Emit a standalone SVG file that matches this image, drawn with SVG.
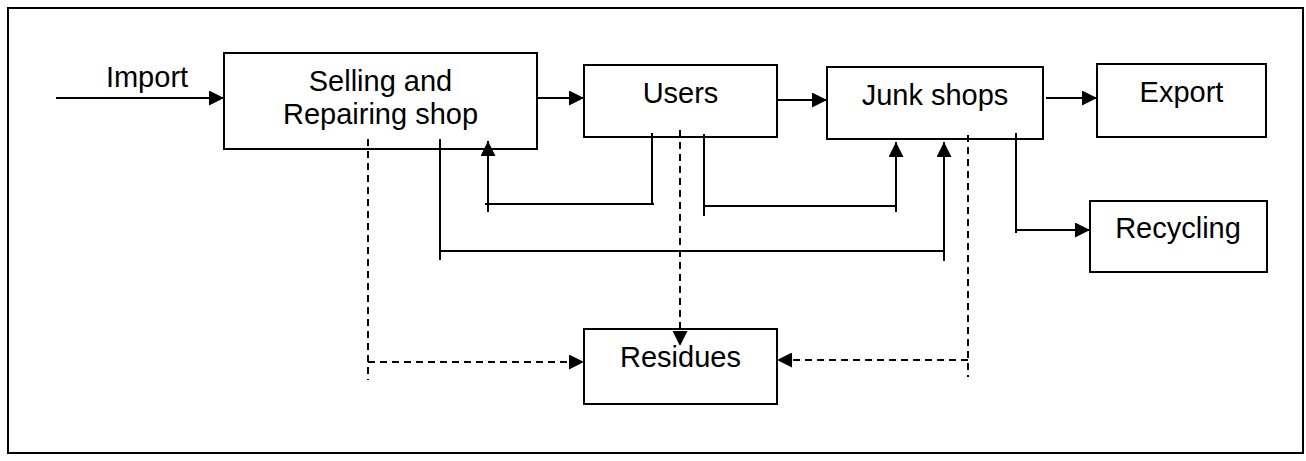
<svg xmlns="http://www.w3.org/2000/svg" width="1306" height="461" viewBox="0 0 1306 461">
  <style>
    .frame { fill: none; stroke: #000; stroke-width: 2; }
    .box { fill: #fff; stroke: #000; stroke-width: 2; }
    .label { font-family: "Liberation Sans", Arial, sans-serif; font-size: 29px; fill: #000; text-anchor: middle; }
    .flow { fill: none; stroke: #000; stroke-width: 2; }
    .waste { fill: none; stroke: #000; stroke-width: 2; stroke-dasharray: 7 5; }
  </style>
  <defs>
    <marker id="arrow" viewBox="0 0 15 15" refX="15" refY="7.5" markerWidth="15" markerHeight="15" markerUnits="userSpaceOnUse" orient="auto">
      <path d="M0,0 L15,7.5 L0,15 z" fill="#000" stroke="none"/>
    </marker>
  </defs>

  <!-- outer frame -->
  <rect class="frame" x="8" y="8" width="1295" height="445"/>

  <!-- nodes -->
  <g id="selling-repairing-shop">
    <rect class="box" x="224" y="53" width="313" height="96"/>
    <text class="label" x="380.5" y="90.5">Selling and</text>
    <text class="label" x="380.5" y="124">Repairing shop</text>
  </g>
  <g id="users">
    <rect class="box" x="584" y="65" width="193" height="72"/>
    <text class="label" x="680.5" y="103">Users</text>
  </g>
  <g id="junk-shops">
    <rect class="box" x="827" y="67" width="216" height="72"/>
    <text class="label" x="935" y="105">Junk shops</text>
  </g>
  <g id="export">
    <rect class="box" x="1097" y="64" width="169" height="73"/>
    <text class="label" x="1181.5" y="102">Export</text>
  </g>
  <g id="recycling">
    <rect class="box" x="1090" y="201" width="177" height="71"/>
    <text class="label" x="1178" y="237.5">Recycling</text>
  </g>
  <g id="residues">
    <rect class="box" x="584" y="329" width="193" height="75"/>
    <text class="label" x="680.5" y="366.5">Residues</text>
  </g>

  <!-- connectors -->
  <g id="connectors">
    <!-- import into the shop -->
    <path class="flow" d="M56,98 H224" marker-end="url(#arrow)"/>
    <text class="label" x="147" y="87">Import</text>

    <!-- main chain -->
    <path class="flow" d="M537,98 H584" marker-end="url(#arrow)"/>
    <path class="flow" d="M777,100 H827" marker-end="url(#arrow)"/>
    <path class="flow" d="M1046,98 H1097" marker-end="url(#arrow)"/>
    <path class="flow" d="M1016,133 V233 M1016,230 H1090" marker-end="url(#arrow)"/>

    <!-- returns -->
    <path class="flow" d="M652,133 V205 M654,204 H485 M488,212 V141" marker-end="url(#arrow)"/>
    <path class="flow" d="M704,134 V216 M704,206 H897 M896,212 V142" marker-end="url(#arrow)"/>
    <path class="flow" d="M440,139 V260 M440,251 H945 M944,261 V142" marker-end="url(#arrow)"/>

    <!-- residue streams -->
    <path class="waste" d="M368,139 V380 M368,362 H584" marker-end="url(#arrow)"/>
    <path class="waste" d="M680,130 V346" marker-end="url(#arrow)"/>
    <path class="waste" d="M968,135 V377 M968,360 H777" marker-end="url(#arrow)"/>
  </g>
</svg>
